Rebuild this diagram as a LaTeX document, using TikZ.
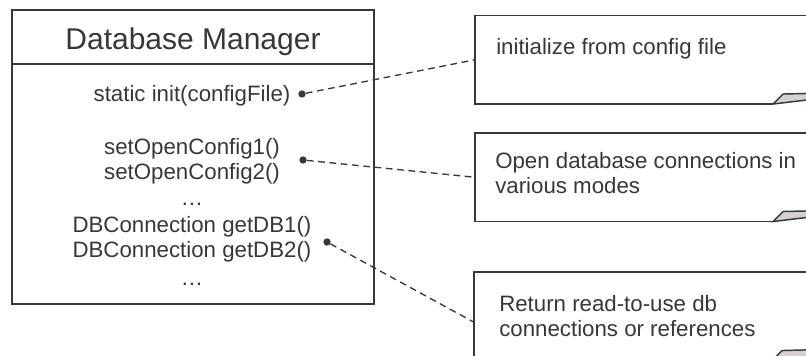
\documentclass[tikz,border=0pt]{standalone}
\usepackage{fontspec}
\setmainfont{Liberation Sans}
\usetikzlibrary{positioning}
\definecolor{inkgray}{RGB}{55,55,55}
\definecolor{foldgray}{RGB}{214,208,208}

\begin{document}
\begin{tikzpicture}[x=0.75pt,y=0.75pt,yscale=-1,xscale=1,
  boxline/.style={draw=inkgray,line width=1.1pt},
  dashline/.style={draw=inkgray,line width=1pt,dash pattern=on 5pt off 3.5pt},
  method/.style={text=inkgray,font=\fontsize{16.7}{18.75}\selectfont,anchor=base,inner sep=0},
  notetext/.style={text=inkgray,font=\fontsize{16.7}{18.75}\selectfont,anchor=base west,align=left,inner sep=0},
  notebox/.style={anchor=north west,minimum width=270pt,minimum height=66pt,inner sep=0},
  dot/.style={circle,fill=inkgray,inner sep=0,minimum size=5.5pt}]
\useasboundingbox (0,0) rectangle (806,356);
\clip (0,0) rectangle (806,356);

%Shape: Class box
\draw[boxline] (12,10) rectangle (374,304);
\draw[boxline] (12,64) -- (374,64);

% Text Node
\node[text=inkgray,font=\fontsize{22.5}{27}\selectfont,anchor=base] (title) at (193,50) {Database Manager};
% Text Node
\node[method] (m1) at (192,101.5) {static init(configFile)};
\node[method] (m2) at (192,155) {setOpenConfig1()};
\node[method] (m3) at (192,180) {setOpenConfig2()};
\node[method] (m4) at (192,205) {…};
\node[method] (m5) at (192,232) {DBConnection getDB1()};
\node[method] (m6) at (192,257) {DBConnection getDB2()};
\node[method] (m7) at (192,285) {…};

%Shape: Notes
\node[notebox] (n1) at (475,15.5) {};
\node[notebox] (n2) at (475,133) {};
\node[notebox] (n3) at (474,272) {};
\foreach \n in {n1,n2,n3}{
  \draw[boxline] (\n.north east) -- (\n.north west) -- (\n.south west) -- ++(298,0) coordinate (fold);
  \filldraw[boxline,fill=foldgray] (fold) -- ++(10,-10) -- ++(40,-1) -- ++(0,5) -- cycle;
}

% Text Node
\node[notetext] (t1) at (496,55) {initialize from config file};
\node[notetext] (t2) at (495,193.5) {Open database connections in\\various modes};
\node[notetext] (t3) at (499,336.7) {Return read-to-use db\\connections or references};

%Shape: Dots and dashed links
\node[dot] (d1) at (302,94) {};
\node[dot] (d2) at (303,160) {};
\node[dot] (d3) at (327,242) {};
\draw[dashline] (d1) -- (n1.west);
\draw[dashline] (d2) -- (n2.west);
\draw[dashline] (d3) -- ([yshift=4.5pt]n3.west);

\end{tikzpicture}
\end{document}
